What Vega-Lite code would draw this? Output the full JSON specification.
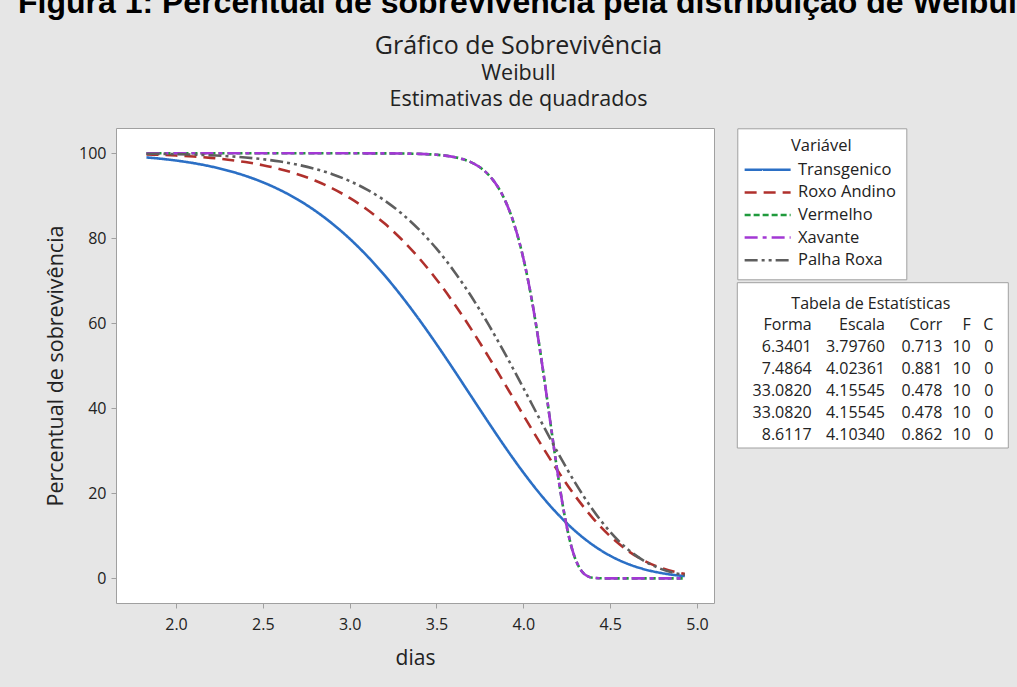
{
  "$schema": "https://vega.github.io/schema/vega-lite/v6.json",
  "autosize": {"type": "none"},
  "padding": {"left": 116, "top": 128, "right": 303, "bottom": 84},
  "width": 598,
  "height": 475,
  "background": "#e6e6e6",
  "config": {
    "view": {"fill": "white", "stroke": "#a0a0a0", "strokeWidth": 1},
    "font": "Open Sans"
  },
  "title": {
    "text": "Figura 1: Percentual de sobrevivência pela distribuição de Weibull",
    "anchor": "start",
    "frame": "group",
    "dx": -98,
    "offset": -12,
    "baseline": "alphabetic",
    "font": "Liberation Sans",
    "fontSize": 32,
    "fontWeight": "bold",
    "color": "#000000"
  },
  "layer": [
    {
      "data": {
        "values": [
          {"serie": "Transgenico", "dias": 1.83, "pct": 99.03},
          {"serie": "Transgenico", "dias": 1.9, "pct": 98.77},
          {"serie": "Transgenico", "dias": 2.0, "pct": 98.30},
          {"serie": "Transgenico", "dias": 2.1, "pct": 97.69},
          {"serie": "Transgenico", "dias": 2.2, "pct": 96.91},
          {"serie": "Transgenico", "dias": 2.3, "pct": 95.92},
          {"serie": "Transgenico", "dias": 2.4, "pct": 94.69},
          {"serie": "Transgenico", "dias": 2.5, "pct": 93.18},
          {"serie": "Transgenico", "dias": 2.6, "pct": 91.34},
          {"serie": "Transgenico", "dias": 2.7, "pct": 89.14},
          {"serie": "Transgenico", "dias": 2.8, "pct": 86.52},
          {"serie": "Transgenico", "dias": 2.9, "pct": 83.45},
          {"serie": "Transgenico", "dias": 3.0, "pct": 79.91},
          {"serie": "Transgenico", "dias": 3.1, "pct": 75.87},
          {"serie": "Transgenico", "dias": 3.2, "pct": 71.34},
          {"serie": "Transgenico", "dias": 3.3, "pct": 66.33},
          {"serie": "Transgenico", "dias": 3.4, "pct": 60.89},
          {"serie": "Transgenico", "dias": 3.5, "pct": 55.10},
          {"serie": "Transgenico", "dias": 3.6, "pct": 49.04},
          {"serie": "Transgenico", "dias": 3.7, "pct": 42.83},
          {"serie": "Transgenico", "dias": 3.8, "pct": 36.64},
          {"serie": "Transgenico", "dias": 3.9, "pct": 30.61},
          {"serie": "Transgenico", "dias": 4.0, "pct": 24.91},
          {"serie": "Transgenico", "dias": 4.1, "pct": 19.68},
          {"serie": "Transgenico", "dias": 4.2, "pct": 15.05},
          {"serie": "Transgenico", "dias": 4.3, "pct": 11.10},
          {"serie": "Transgenico", "dias": 4.4, "pct": 7.86},
          {"serie": "Transgenico", "dias": 4.5, "pct": 5.32},
          {"serie": "Transgenico", "dias": 4.6, "pct": 3.43},
          {"serie": "Transgenico", "dias": 4.7, "pct": 2.10},
          {"serie": "Transgenico", "dias": 4.8, "pct": 1.21},
          {"serie": "Transgenico", "dias": 4.9, "pct": 0.65},
          {"serie": "Transgenico", "dias": 4.93, "pct": 0.54},

          {"serie": "Roxo Andino", "dias": 1.83, "pct": 99.73},
          {"serie": "Roxo Andino", "dias": 1.9, "pct": 99.64},
          {"serie": "Roxo Andino", "dias": 2.0, "pct": 99.47},
          {"serie": "Roxo Andino", "dias": 2.1, "pct": 99.23},
          {"serie": "Roxo Andino", "dias": 2.2, "pct": 98.92},
          {"serie": "Roxo Andino", "dias": 2.3, "pct": 98.49},
          {"serie": "Roxo Andino", "dias": 2.4, "pct": 97.93},
          {"serie": "Roxo Andino", "dias": 2.5, "pct": 97.20},
          {"serie": "Roxo Andino", "dias": 2.6, "pct": 96.27},
          {"serie": "Roxo Andino", "dias": 2.7, "pct": 95.08},
          {"serie": "Roxo Andino", "dias": 2.8, "pct": 93.59},
          {"serie": "Roxo Andino", "dias": 2.9, "pct": 91.74},
          {"serie": "Roxo Andino", "dias": 3.0, "pct": 89.49},
          {"serie": "Roxo Andino", "dias": 3.1, "pct": 86.77},
          {"serie": "Roxo Andino", "dias": 3.2, "pct": 83.52},
          {"serie": "Roxo Andino", "dias": 3.3, "pct": 79.72},
          {"serie": "Roxo Andino", "dias": 3.4, "pct": 75.32},
          {"serie": "Roxo Andino", "dias": 3.5, "pct": 70.32},
          {"serie": "Roxo Andino", "dias": 3.6, "pct": 64.74},
          {"serie": "Roxo Andino", "dias": 3.7, "pct": 58.63},
          {"serie": "Roxo Andino", "dias": 3.8, "pct": 52.11},
          {"serie": "Roxo Andino", "dias": 3.9, "pct": 45.30},
          {"serie": "Roxo Andino", "dias": 4.0, "pct": 38.41},
          {"serie": "Roxo Andino", "dias": 4.1, "pct": 31.62},
          {"serie": "Roxo Andino", "dias": 4.2, "pct": 25.19},
          {"serie": "Roxo Andino", "dias": 4.3, "pct": 19.31},
          {"serie": "Roxo Andino", "dias": 4.4, "pct": 14.18},
          {"serie": "Roxo Andino", "dias": 4.5, "pct": 9.92},
          {"serie": "Roxo Andino", "dias": 4.6, "pct": 6.56},
          {"serie": "Roxo Andino", "dias": 4.7, "pct": 4.07},
          {"serie": "Roxo Andino", "dias": 4.8, "pct": 2.36},
          {"serie": "Roxo Andino", "dias": 4.9, "pct": 1.26},
          {"serie": "Roxo Andino", "dias": 4.93, "pct": 1.03},

          {"serie": "Vermelho", "dias": 1.83, "pct": 100},
          {"serie": "Vermelho", "dias": 1.9, "pct": 100},
          {"serie": "Vermelho", "dias": 2.0, "pct": 100},
          {"serie": "Vermelho", "dias": 2.1, "pct": 100},
          {"serie": "Vermelho", "dias": 2.2, "pct": 100},
          {"serie": "Vermelho", "dias": 2.3, "pct": 100},
          {"serie": "Vermelho", "dias": 2.4, "pct": 100},
          {"serie": "Vermelho", "dias": 2.5, "pct": 100},
          {"serie": "Vermelho", "dias": 2.6, "pct": 100},
          {"serie": "Vermelho", "dias": 2.7, "pct": 100},
          {"serie": "Vermelho", "dias": 2.8, "pct": 100},
          {"serie": "Vermelho", "dias": 2.9, "pct": 100},
          {"serie": "Vermelho", "dias": 3.0, "pct": 100},
          {"serie": "Vermelho", "dias": 3.1, "pct": 99.99},
          {"serie": "Vermelho", "dias": 3.2, "pct": 99.98},
          {"serie": "Vermelho", "dias": 3.3, "pct": 99.95},
          {"serie": "Vermelho", "dias": 3.4, "pct": 99.87},
          {"serie": "Vermelho", "dias": 3.5, "pct": 99.66},
          {"serie": "Vermelho", "dias": 3.55, "pct": 99.45},
          {"serie": "Vermelho", "dias": 3.6, "pct": 99.14},
          {"serie": "Vermelho", "dias": 3.65, "pct": 98.64},
          {"serie": "Vermelho", "dias": 3.7, "pct": 97.87},
          {"serie": "Vermelho", "dias": 3.725, "pct": 97.35},
          {"serie": "Vermelho", "dias": 3.75, "pct": 96.71},
          {"serie": "Vermelho", "dias": 3.775, "pct": 95.91},
          {"serie": "Vermelho", "dias": 3.8, "pct": 94.94},
          {"serie": "Vermelho", "dias": 3.825, "pct": 93.75},
          {"serie": "Vermelho", "dias": 3.85, "pct": 92.31},
          {"serie": "Vermelho", "dias": 3.875, "pct": 90.57},
          {"serie": "Vermelho", "dias": 3.9, "pct": 88.46},
          {"serie": "Vermelho", "dias": 3.925, "pct": 85.95},
          {"serie": "Vermelho", "dias": 3.95, "pct": 82.96},
          {"serie": "Vermelho", "dias": 3.975, "pct": 79.44},
          {"serie": "Vermelho", "dias": 4.0, "pct": 75.33},
          {"serie": "Vermelho", "dias": 4.025, "pct": 70.60},
          {"serie": "Vermelho", "dias": 4.05, "pct": 65.23},
          {"serie": "Vermelho", "dias": 4.075, "pct": 59.23},
          {"serie": "Vermelho", "dias": 4.1, "pct": 52.67},
          {"serie": "Vermelho", "dias": 4.125, "pct": 45.66},
          {"serie": "Vermelho", "dias": 4.15, "pct": 38.38},
          {"serie": "Vermelho", "dias": 4.175, "pct": 31.10},
          {"serie": "Vermelho", "dias": 4.2, "pct": 24.10},
          {"serie": "Vermelho", "dias": 4.225, "pct": 17.70},
          {"serie": "Vermelho", "dias": 4.25, "pct": 12.19},
          {"serie": "Vermelho", "dias": 4.275, "pct": 7.76},
          {"serie": "Vermelho", "dias": 4.3, "pct": 4.51},
          {"serie": "Vermelho", "dias": 4.325, "pct": 2.34},
          {"serie": "Vermelho", "dias": 4.35, "pct": 1.06},
          {"serie": "Vermelho", "dias": 4.375, "pct": 0.41},
          {"serie": "Vermelho", "dias": 4.4, "pct": 0.13},
          {"serie": "Vermelho", "dias": 4.45, "pct": 0.01},
          {"serie": "Vermelho", "dias": 4.5, "pct": 0},
          {"serie": "Vermelho", "dias": 4.6, "pct": 0},
          {"serie": "Vermelho", "dias": 4.7, "pct": 0},
          {"serie": "Vermelho", "dias": 4.8, "pct": 0},
          {"serie": "Vermelho", "dias": 4.9, "pct": 0},
          {"serie": "Vermelho", "dias": 4.93, "pct": 0},

          {"serie": "Xavante", "dias": 1.83, "pct": 100},
          {"serie": "Xavante", "dias": 1.9, "pct": 100},
          {"serie": "Xavante", "dias": 2.0, "pct": 100},
          {"serie": "Xavante", "dias": 2.1, "pct": 100},
          {"serie": "Xavante", "dias": 2.2, "pct": 100},
          {"serie": "Xavante", "dias": 2.3, "pct": 100},
          {"serie": "Xavante", "dias": 2.4, "pct": 100},
          {"serie": "Xavante", "dias": 2.5, "pct": 100},
          {"serie": "Xavante", "dias": 2.6, "pct": 100},
          {"serie": "Xavante", "dias": 2.7, "pct": 100},
          {"serie": "Xavante", "dias": 2.8, "pct": 100},
          {"serie": "Xavante", "dias": 2.9, "pct": 100},
          {"serie": "Xavante", "dias": 3.0, "pct": 100},
          {"serie": "Xavante", "dias": 3.1, "pct": 99.99},
          {"serie": "Xavante", "dias": 3.2, "pct": 99.98},
          {"serie": "Xavante", "dias": 3.3, "pct": 99.95},
          {"serie": "Xavante", "dias": 3.4, "pct": 99.87},
          {"serie": "Xavante", "dias": 3.5, "pct": 99.66},
          {"serie": "Xavante", "dias": 3.55, "pct": 99.45},
          {"serie": "Xavante", "dias": 3.6, "pct": 99.14},
          {"serie": "Xavante", "dias": 3.65, "pct": 98.64},
          {"serie": "Xavante", "dias": 3.7, "pct": 97.87},
          {"serie": "Xavante", "dias": 3.725, "pct": 97.35},
          {"serie": "Xavante", "dias": 3.75, "pct": 96.71},
          {"serie": "Xavante", "dias": 3.775, "pct": 95.91},
          {"serie": "Xavante", "dias": 3.8, "pct": 94.94},
          {"serie": "Xavante", "dias": 3.825, "pct": 93.75},
          {"serie": "Xavante", "dias": 3.85, "pct": 92.31},
          {"serie": "Xavante", "dias": 3.875, "pct": 90.57},
          {"serie": "Xavante", "dias": 3.9, "pct": 88.46},
          {"serie": "Xavante", "dias": 3.925, "pct": 85.95},
          {"serie": "Xavante", "dias": 3.95, "pct": 82.96},
          {"serie": "Xavante", "dias": 3.975, "pct": 79.44},
          {"serie": "Xavante", "dias": 4.0, "pct": 75.33},
          {"serie": "Xavante", "dias": 4.025, "pct": 70.60},
          {"serie": "Xavante", "dias": 4.05, "pct": 65.23},
          {"serie": "Xavante", "dias": 4.075, "pct": 59.23},
          {"serie": "Xavante", "dias": 4.1, "pct": 52.67},
          {"serie": "Xavante", "dias": 4.125, "pct": 45.66},
          {"serie": "Xavante", "dias": 4.15, "pct": 38.38},
          {"serie": "Xavante", "dias": 4.175, "pct": 31.10},
          {"serie": "Xavante", "dias": 4.2, "pct": 24.10},
          {"serie": "Xavante", "dias": 4.225, "pct": 17.70},
          {"serie": "Xavante", "dias": 4.25, "pct": 12.19},
          {"serie": "Xavante", "dias": 4.275, "pct": 7.76},
          {"serie": "Xavante", "dias": 4.3, "pct": 4.51},
          {"serie": "Xavante", "dias": 4.325, "pct": 2.34},
          {"serie": "Xavante", "dias": 4.35, "pct": 1.06},
          {"serie": "Xavante", "dias": 4.375, "pct": 0.41},
          {"serie": "Xavante", "dias": 4.4, "pct": 0.13},
          {"serie": "Xavante", "dias": 4.45, "pct": 0.01},
          {"serie": "Xavante", "dias": 4.5, "pct": 0},
          {"serie": "Xavante", "dias": 4.6, "pct": 0},
          {"serie": "Xavante", "dias": 4.7, "pct": 0},
          {"serie": "Xavante", "dias": 4.8, "pct": 0},
          {"serie": "Xavante", "dias": 4.9, "pct": 0},
          {"serie": "Xavante", "dias": 4.93, "pct": 0},

          {"serie": "Palha Roxa", "dias": 1.83, "pct": 99.90},
          {"serie": "Palha Roxa", "dias": 1.9, "pct": 99.87},
          {"serie": "Palha Roxa", "dias": 2.0, "pct": 99.80},
          {"serie": "Palha Roxa", "dias": 2.1, "pct": 99.69},
          {"serie": "Palha Roxa", "dias": 2.2, "pct": 99.53},
          {"serie": "Palha Roxa", "dias": 2.3, "pct": 99.32},
          {"serie": "Palha Roxa", "dias": 2.4, "pct": 99.02},
          {"serie": "Palha Roxa", "dias": 2.5, "pct": 98.61},
          {"serie": "Palha Roxa", "dias": 2.6, "pct": 98.05},
          {"serie": "Palha Roxa", "dias": 2.7, "pct": 97.32},
          {"serie": "Palha Roxa", "dias": 2.8, "pct": 96.35},
          {"serie": "Palha Roxa", "dias": 2.9, "pct": 95.09},
          {"serie": "Palha Roxa", "dias": 3.0, "pct": 93.48},
          {"serie": "Palha Roxa", "dias": 3.1, "pct": 91.45},
          {"serie": "Palha Roxa", "dias": 3.2, "pct": 88.92},
          {"serie": "Palha Roxa", "dias": 3.3, "pct": 85.80},
          {"serie": "Palha Roxa", "dias": 3.4, "pct": 82.03},
          {"serie": "Palha Roxa", "dias": 3.5, "pct": 77.56},
          {"serie": "Palha Roxa", "dias": 3.6, "pct": 72.33},
          {"serie": "Palha Roxa", "dias": 3.7, "pct": 66.35},
          {"serie": "Palha Roxa", "dias": 3.8, "pct": 59.68},
          {"serie": "Palha Roxa", "dias": 3.9, "pct": 52.44},
          {"serie": "Palha Roxa", "dias": 4.0, "pct": 44.81},
          {"serie": "Palha Roxa", "dias": 4.1, "pct": 37.05},
          {"serie": "Palha Roxa", "dias": 4.2, "pct": 29.47},
          {"serie": "Palha Roxa", "dias": 4.3, "pct": 22.39},
          {"serie": "Palha Roxa", "dias": 4.4, "pct": 16.14},
          {"serie": "Palha Roxa", "dias": 4.5, "pct": 10.93},
          {"serie": "Palha Roxa", "dias": 4.6, "pct": 6.89},
          {"serie": "Palha Roxa", "dias": 4.7, "pct": 4.00},
          {"serie": "Palha Roxa", "dias": 4.8, "pct": 2.11},
          {"serie": "Palha Roxa", "dias": 4.9, "pct": 1.00},
          {"serie": "Palha Roxa", "dias": 4.93, "pct": 0.78}
        ]
      },
      "mark": {"type": "line", "strokeWidth": 2.6, "interpolate": "monotone"},
      "encoding": {
        "x": {
          "field": "dias",
          "type": "quantitative",
          "scale": {"domain": [1.6545, 5.098], "nice": false, "zero": false},
          "axis": {
            "values": [2.0, 2.5, 3.0, 3.5, 4.0, 4.5, 5.0],
            "format": ".1f",
            "domain": false,
            "grid": false,
            "tickColor": "#a0a0a0",
            "tickSize": 5,
            "labelFont": "Open Sans",
            "labelFontSize": 16,
            "labelColor": "#222222",
            "labelPadding": 8,
            "title": "dias",
            "titleFont": "Open Sans",
            "titleFontSize": 21,
            "titleFontWeight": "normal",
            "titleColor": "#222222",
            "titleBaseline": "alphabetic",
            "titleY": 61
          }
        },
        "y": {
          "field": "pct",
          "type": "quantitative",
          "scale": {"domain": [-5.8, 105.95], "nice": false, "zero": false},
          "axis": {
            "values": [0, 20, 40, 60, 80, 100],
            "domain": false,
            "grid": false,
            "tickColor": "#a0a0a0",
            "tickSize": 5,
            "labelFont": "Open Sans",
            "labelFontSize": 16,
            "labelColor": "#222222",
            "labelPadding": 5,
            "title": "Percentual de sobrevivência",
            "titleFont": "Open Sans",
            "titleFontSize": 21.5,
            "titleFontWeight": "normal",
            "titleColor": "#222222",
            "titleBaseline": "alphabetic",
            "titleX": -54
          }
        },
        "color": {
          "field": "serie",
          "type": "nominal",
          "title": "Variável",
          "scale": {
            "domain": ["Transgenico", "Roxo Andino", "Vermelho", "Xavante", "Palha Roxa"],
            "range": ["#2b6fc5", "#b0302c", "#1f9a3c", "#a238d4", "#5e5e5e"]
          },
          "legend": {
            "orient": "none",
            "legendX": 621.3,
            "legendY": 0.3,
            "padding": 10,
            "fillColor": "white",
            "strokeColor": "#a0a0a0",
            "titleFont": "Open Sans",
            "titleFontSize": 16.5,
            "titleFontWeight": "normal",
            "titleColor": "#222222",
            "titleAnchor": "middle",
            "titlePadding": 6,
            "labelFont": "Open Sans",
            "labelFontSize": 16.5,
            "labelColor": "#222222",
            "labelOffset": 36.7,
            "labelExpr": "datum.label + '\u00a0\u00a0'",
            "symbolType": "M-1,0H5",
            "symbolSize": 235,
            "symbolStrokeWidth": 2.5,
            "symbolOffset": -4,
            "rowPadding": 4.6
          }
        },
        "strokeDash": {
          "field": "serie",
          "type": "nominal",
          "title": "Variável",
          "scale": {
            "domain": ["Transgenico", "Roxo Andino", "Vermelho", "Xavante", "Palha Roxa"],
            "range": [[1, 0], [12, 7], [6, 3], [13, 5, 4, 5], [13, 4, 3, 4, 3, 4]]
          }
        }
      }
    },
    {
      "data": {"values": [{"caixa": "Tabela de Estatísticas"}]},
      "mark": {"type": "rect", "fill": "white", "stroke": "#a0a0a0", "strokeWidth": 1},
      "encoding": {
        "x": {
          "datum": 0,
          "type": "quantitative",
          "scale": {"domain": [0, 1], "range": [621.3, 892.3], "nice": false, "zero": false},
          "axis": {
            "orient": "top",
            "domain": false,
            "ticks": false,
            "labels": false,
            "grid": false,
            "title": "Gráfico de Sobrevivência",
            "titleFont": "Open Sans",
            "titleFontSize": 25,
            "titleFontWeight": "normal",
            "titleColor": "#222222",
            "titleAlign": "center",
            "titleBaseline": "alphabetic",
            "titleAngle": 0,
            "titleX": 402,
            "titleY": -75
          }
        },
        "x2": {"datum": 1},
        "y": {
          "datum": 0,
          "type": "quantitative",
          "scale": {"domain": [0, 1], "range": [154.7, 320], "nice": false, "zero": false},
          "axis": {
            "orient": "right",
            "domain": false,
            "ticks": false,
            "labels": false,
            "grid": false,
            "title": ["Weibull", "Estimativas de quadrados"],
            "titleFont": "Open Sans",
            "titleFontSize": 21.5,
            "titleFontWeight": "normal",
            "titleColor": "#222222",
            "titleAlign": "center",
            "titleBaseline": "alphabetic",
            "titleAngle": 0,
            "titleLineHeight": 26,
            "titleX": -196,
            "titleY": -49
          }
        },
        "y2": {"datum": 1}
      }
    },
    {
      "data": {
        "values": [
          {"linha": -1, "coluna": 0, "texto": "Tabela de Estatísticas"},
          {"linha": 0, "coluna": 1, "texto": "Forma"},
          {"linha": 0, "coluna": 2, "texto": "Escala"},
          {"linha": 0, "coluna": 3, "texto": "Corr"},
          {"linha": 0, "coluna": 4, "texto": "F"},
          {"linha": 0, "coluna": 5, "texto": "C"},
          {"linha": 1, "coluna": 1, "texto": "6.3401"},
          {"linha": 1, "coluna": 2, "texto": "3.79760"},
          {"linha": 1, "coluna": 3, "texto": "0.713"},
          {"linha": 1, "coluna": 4, "texto": "10"},
          {"linha": 1, "coluna": 5, "texto": "0"},
          {"linha": 2, "coluna": 1, "texto": "7.4864"},
          {"linha": 2, "coluna": 2, "texto": "4.02361"},
          {"linha": 2, "coluna": 3, "texto": "0.881"},
          {"linha": 2, "coluna": 4, "texto": "10"},
          {"linha": 2, "coluna": 5, "texto": "0"},
          {"linha": 3, "coluna": 1, "texto": "33.0820"},
          {"linha": 3, "coluna": 2, "texto": "4.15545"},
          {"linha": 3, "coluna": 3, "texto": "0.478"},
          {"linha": 3, "coluna": 4, "texto": "10"},
          {"linha": 3, "coluna": 5, "texto": "0"},
          {"linha": 4, "coluna": 1, "texto": "33.0820"},
          {"linha": 4, "coluna": 2, "texto": "4.15545"},
          {"linha": 4, "coluna": 3, "texto": "0.478"},
          {"linha": 4, "coluna": 4, "texto": "10"},
          {"linha": 4, "coluna": 5, "texto": "0"},
          {"linha": 5, "coluna": 1, "texto": "8.6117"},
          {"linha": 5, "coluna": 2, "texto": "4.10340"},
          {"linha": 5, "coluna": 3, "texto": "0.862"},
          {"linha": 5, "coluna": 4, "texto": "10"},
          {"linha": 5, "coluna": 5, "texto": "0"}
        ]
      },
      "encoding": {
        "x": {
          "field": "coluna",
          "type": "quantitative",
          "scale": {"domain": [0, 1, 2, 3, 4, 5], "range": [754.8, 695.7, 769, 826.3, 854.7, 877.3], "nice": false, "zero": false},
          "axis": null
        },
        "y": {
          "field": "linha",
          "type": "quantitative",
          "scale": {"domain": [-1, 0, 5], "range": [176, 196.5, 306.5], "nice": false, "zero": false},
          "axis": null
        },
        "text": {"field": "texto", "type": "nominal"}
      },
      "layer": [
        {
          "transform": [{"filter": "datum.linha < 0"}],
          "mark": {"type": "text", "align": "center", "baseline": "middle", "font": "Open Sans", "fontSize": 16, "color": "#222222"}
        },
        {
          "transform": [{"filter": "datum.linha >= 0"}],
          "mark": {"type": "text", "align": "right", "baseline": "middle", "font": "Open Sans", "fontSize": 16, "color": "#222222"}
        }
      ]
    }
  ],
  "resolve": {"scale": {"x": "independent", "y": "independent"}}
}
